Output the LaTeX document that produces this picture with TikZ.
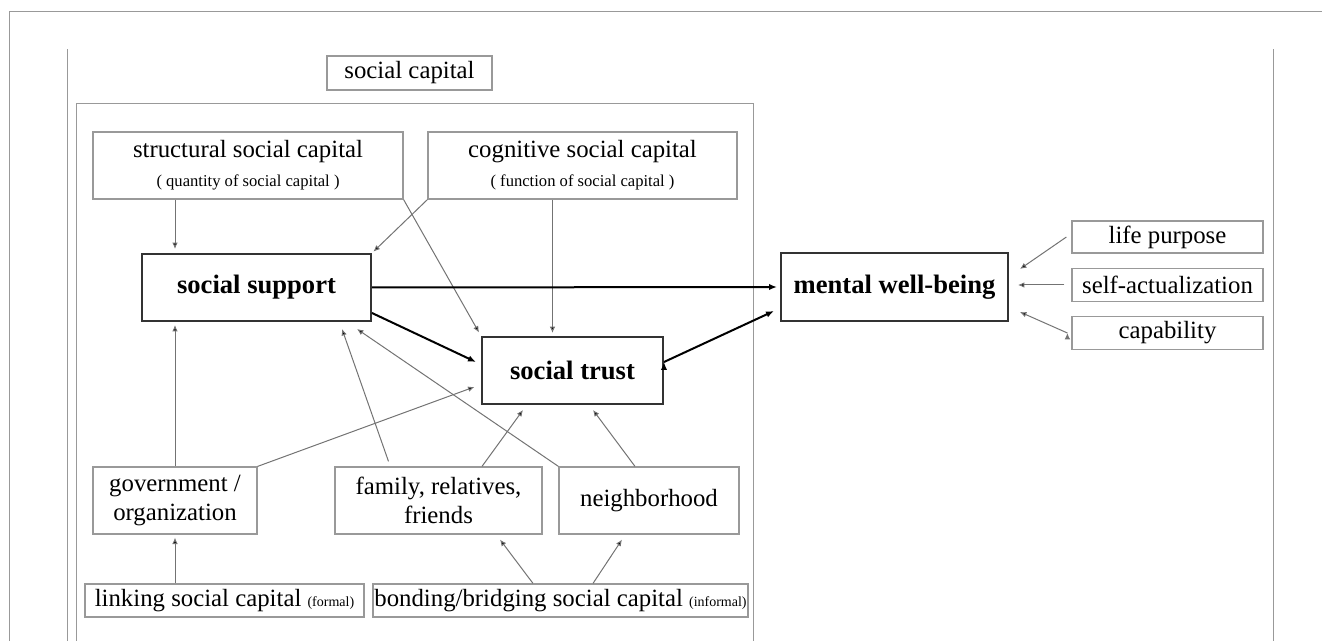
\documentclass[tikz,border=0pt]{standalone}
\usepackage{fontspec}
\setmainfont{Liberation Serif}
\usetikzlibrary{arrows.meta}

\begin{document}
\begin{tikzpicture}[x=0.5pt,y=-0.5pt,auto,node distance=24pt,
  box/.style={draw=black!40,line width=0.6pt,inner sep=0pt,align=center,font=\fontsize{12.4}{14.5}\selectfont},
  keybox/.style={draw=black!80,line width=1pt,inner sep=0pt,font=\bfseries\fontsize{13.3}{15}\selectfont},
  link/.style={draw=black!55,line width=0.5pt,-{Latex[length=3.2pt,width=2.8pt]}},
  mainlink/.style={draw=black,line width=1pt,-{Latex[length=4pt,width=3.2pt]}},
  frame/.style={draw=black!40,line width=0.5pt}]
\useasboundingbox (0,0) rectangle (1322,641);
\clip (0,0) rectangle (1322,641);

% page frame
\draw[frame] (9,641) -- (9,12) -- (1322,12);
\draw[frame] (67,641) -- (67,49);
\draw[frame] (1273,641) -- (1273,49);
\draw[frame] (76,641) |- (753,104) -- (753,641);

\node[box] (cap) at (409.5,73) [minimum width=82.5pt, minimum height=17pt] {social capital};
\node[box] (struct) at (248,165.5) [minimum width=155pt, minimum height=33.5pt]
  {structural social capital\\{\fontsize{8.3}{10}\selectfont ( quantity of social capital )}};
\node[box] (cog) at (582.5,165.5) [minimum width=154.5pt, minimum height=33.5pt]
  {cognitive social capital\\{\fontsize{8.3}{10}\selectfont ( function of social capital )}};
\node[keybox] (ssup) at (256.5,287.5) [minimum width=114.5pt, minimum height=33.5pt] {social support};
\node[keybox] (strust) at (572.5,370.5) [minimum width=90.5pt, minimum height=33.5pt] {social trust};
\node[keybox] (mwb) at (894.5,287) [minimum width=113.5pt, minimum height=34pt] {mental well-being};
\node[box] (life) at (1167.5,237) [minimum width=95.5pt, minimum height=16pt] {life purpose};
\node[box] (selfact) [below of=life, minimum width=95.5pt, minimum height=16.5pt] {self-actualization};
\node[box] (capab) [below of=selfact, minimum width=95.5pt, minimum height=16.5pt] {capability};
\node[box] (govt) at (175,500.5) [minimum width=82pt, minimum height=33.5pt] {government /\\organization};
\node[box] (family) at (438.5,500.5) [minimum width=103.5pt, minimum height=33.5pt] {family, relatives,\\friends};
\node[box] (neigh) at (649,500.5) [minimum width=90pt, minimum height=33.5pt] {neighborhood};
\node[box] (linking) at (224.5,600.5) [minimum width=139.5pt, minimum height=16.5pt]
  {linking social capital {\fontsize{7}{8}\selectfont(formal)}};
\node[box] (bonding) at (560.5,600.5) [minimum width=187.5pt, minimum height=16.5pt]
  {bonding/bridging social capital {\fontsize{7}{8}\selectfont(informal)}};

\path[link]
(struct.south -| govt) edge[shorten >=2pt] node {} (ssup.north -| govt)
(cog.south west) edge[shorten >=1pt] node {} (ssup.north east)
(struct.south east) edge[shorten >=2pt] node {} (strust.north west)
([xshift=-10pt]strust.north |- cog.south) edge[shorten >=1.5pt] node {} ([xshift=-10pt]strust.north)
(govt.north) edge[shorten >=1.5pt] node {} (ssup.south -| govt)
(govt.north east) edge[shorten >=3.5pt] node {} ([yshift=-7pt]strust.west)
([shift={(-25pt,2.5pt)}]family.north) edge node {} ([shift={(42.75pt,-3.5pt)}]ssup.south)
(neigh.north west) edge node {} ([shift={(50.25pt,-3.5pt)}]ssup.south)
([xshift=21.75pt]family.north) edge node {} ([shift={(-24.75pt,-2.5pt)}]strust.south)
([xshift=-7pt]neigh.north) edge node {} ([shift={(10.25pt,-2.5pt)}]strust.south)
(linking.north -| govt) edge[shorten >=1.5pt] node {} (govt.south)
([xshift=-13.75pt]bonding.north) edge node {} ([shift={(30.75pt,-2.5pt)}]family.south)
([xshift=16.25pt]bonding.north) edge node {} ([shift={(-13.5pt,-2.5pt)}]neigh.south)
([xshift=-2.5pt]life.west) edge node {} ([shift={(5.5pt,9pt)}]mwb.east)
([xshift=-3.5pt]selfact.west) edge node {} ([xshift=4.5pt]mwb.east |- selfact.west)
([xshift=-2pt]capab.west) edge node {} ([shift={(5.5pt,-12.5pt)}]mwb.east);

\path[mainlink]
(ssup.east) edge[shorten >=1.5pt] node {} (mwb.west)
([yshift=4.5pt]ssup.south east) edge node {} ([shift={(-2.5pt,4.25pt)}]strust.west)
([yshift=4.25pt]strust.east) edge node {} ([shift={(-3pt,5.5pt)}]mwb.south west);
\end{tikzpicture}
\end{document}
